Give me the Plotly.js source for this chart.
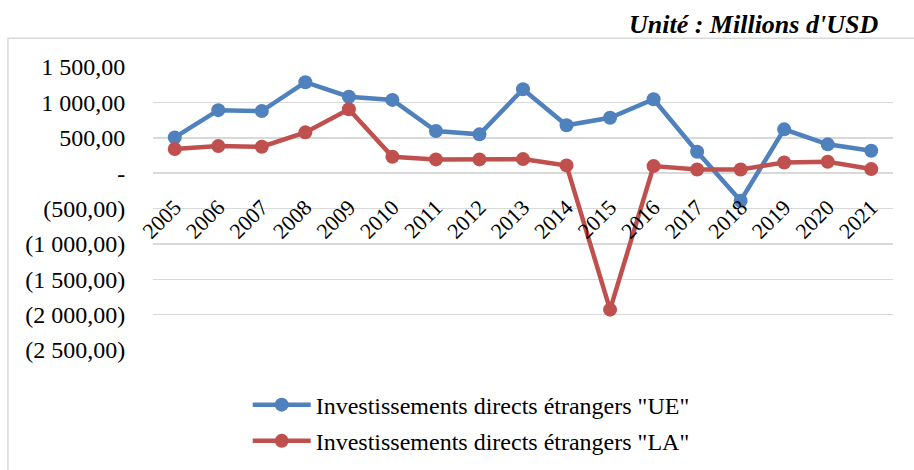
<!DOCTYPE html>
<html>
<head>
<meta charset="utf-8">
<script src="https://cdn.plot.ly/plotly-3.0.1.min.js"></script>
<style>
  html, body { margin: 0; padding: 0; background: #fff; }
  #graph { width: 914px; height: 470px; }
</style>
</head>
<body>
<div id="graph"></div>
<script>
const years = ['2005', '2006', '2007', '2008', '2009', '2010', '2011', '2012', '2013',
  '2014', '2015', '2016', '2017', '2018', '2019', '2020', '2021'];

const ideUE = [505, 890, 878, 1285, 1080, 1035, 595, 548, 1186,
  676, 783, 1044, 302, -390, 619, 407, 316];

const ideLA = [340, 382, 373, 576, 902, 231, 194, 194, 198,
  109, -1930, 99, 52, 52, 151, 160, 57];

const yTickVals = [1500, 1000, 500, 0, -500, -1000, -1500, -2000, -2500];
const yTickText = ['1 500,00', '1 000,00', '500,00', '-', '(500,00)', '(1 000,00)',
  '(1 500,00)', '(2 000,00)', '(2 500,00)'];

const FONT = 'Liberation Serif';
const yMin = -2500, yMax = 1500;

function makeTrace(values, name, color, group) {
  return {
    x: years,
    y: values,
    type: 'scatter',
    mode: 'lines+markers',
    name: name,
    legendgroup: group,
    line: { color: color, width: 4.5 },
    marker: { color: color, size: 14 }
  };
}

const data = [
  makeTrace(ideUE, 'Investissements directs étrangers "UE"', '#4f81bd', 'ue'),
  makeTrace(ideLA, 'Investissements directs étrangers "LA"', '#c0504d', 'la')
];

const layout = {
  width: 914,
  height: 470,
  margin: { l: 153, r: 21, t: 67, b: 120, autoexpand: false },
  paper_bgcolor: '#ffffff',
  plot_bgcolor: '#ffffff',
  font: { family: FONT, color: '#000000', size: 20 },
  showlegend: true,
  title: {
    text: "<b><i>Unité : Millions d'USD</i></b>",
    font: { family: FONT, size: 26, color: '#000000' },
    xref: 'paper',
    x: 0.98,
    xanchor: 'right',
    y: 0.95,
    yanchor: 'middle'
  },
  xaxis: {
    type: 'category',
    range: [-0.5, years.length - 0.5],
    anchor: 'free',
    position: (0 - yMin) / (yMax - yMin),
    showgrid: false,
    zeroline: false,
    showline: false,
    ticks: '',
    tickangle: -45,
    ticklabelstandoff: 16,
    tickfont: { family: FONT, size: 22, color: '#000000' }
  },
  yaxis: {
    range: [yMin, yMax],
    tickvals: yTickVals,
    ticktext: yTickText,
    showgrid: true,
    gridcolor: '#d9d9d9',
    gridwidth: 1.5,
    zeroline: false,
    showline: false,
    ticks: 'outside',
    ticklen: 22,
    tickcolor: 'rgba(0,0,0,0)',
    tickfont: { family: FONT, size: 24, color: '#000000' }
  },
  legend: {
    orientation: 'v',
    traceorder: 'grouped',
    tracegroupgap: 2,
    x: 0.43,
    xanchor: 'center',
    y: -0.115,
    yanchor: 'top',
    itemwidth: 58,
    font: { family: FONT, size: 24, color: '#000000' },
    bgcolor: 'rgba(0,0,0,0)'
  },
  shapes: [{
    type: 'rect',
    xref: 'paper', yref: 'paper',
    x0: -0.196, x1: 1.1, y0: -0.5, y1: 1.102,
    line: { color: '#d9d9d9', width: 1.5 },
    fillcolor: 'rgba(0,0,0,0)',
    layer: 'below'
  }]
};

Plotly.newPlot('graph', data, layout, { staticPlot: true, displayModeBar: false });
</script>
</body>
</html>
